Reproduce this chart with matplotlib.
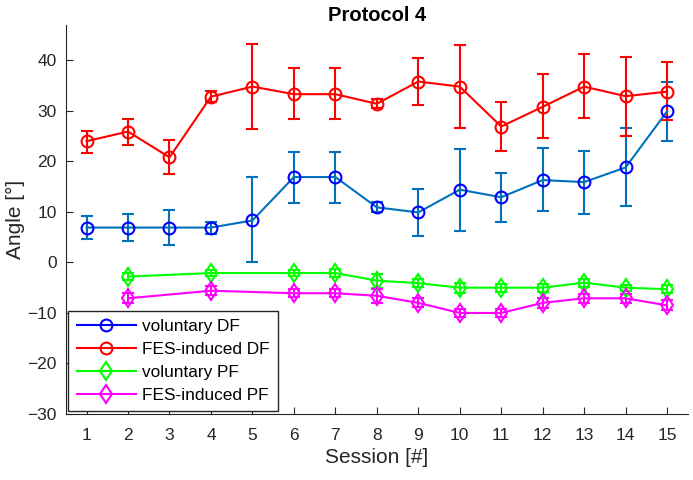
import numpy as np
import matplotlib.pyplot as plt
from matplotlib.lines import Line2D

plt.rcParams['font.family'] = ['Liberation Sans', 'DejaVu Sans']

# sessions
sessions_df = [1, 2, 3, 4, 5, 6, 7, 8, 9, 10, 11, 12, 13, 14, 15]
sessions_pf = [2, 4, 6, 7, 8, 9, 10, 11, 12, 13, 14, 15]

# voluntary DF (mean, lower, upper)
vol_df = [6.9, 6.9, 6.9, 6.9, 8.3, 16.9, 16.9, 10.9, 9.9, 14.4, 12.9, 16.3, 15.9, 18.8, 29.9]
vol_df_lo = [4.7, 4.3, 3.5, 5.7, 0.0, 11.8, 11.8, 10.0, 5.3, 6.3, 8.0, 10.1, 9.6, 11.1, 24.0]
vol_df_hi = [9.1, 9.5, 10.3, 8.1, 16.9, 21.9, 21.9, 11.9, 14.6, 22.5, 17.7, 22.7, 22.1, 26.6, 35.8]

# FES-induced DF
fes_df = [24.0, 25.9, 20.8, 32.8, 34.8, 33.3, 33.3, 31.4, 35.8, 34.8, 26.9, 30.8, 34.8, 32.9, 33.8]
fes_df_lo = [21.7, 23.3, 17.5, 31.7, 26.4, 28.3, 28.3, 30.5, 31.2, 26.7, 22.0, 24.6, 28.5, 25.1, 28.1]
fes_df_hi = [26.1, 28.4, 24.3, 34.0, 43.2, 38.4, 38.4, 32.3, 40.5, 43.0, 31.8, 37.2, 41.2, 40.6, 39.7]

# voluntary PF
vol_pf = [-2.8, -2.1, -2.1, -2.1, -3.6, -4.1, -5.0, -5.0, -5.0, -4.0, -5.0, -5.3]
vol_pf_err = [0.7, 0.6, 0.6, 0.7, 1.4, 0.8, 1.0, 0.8, 0.8, 0.8, 0.6, 0.8]

# FES-induced PF
fes_pf = [-7.1, -5.6, -6.1, -6.1, -6.6, -8.0, -10.0, -10.0, -8.0, -7.1, -7.1, -8.5]
fes_pf_err = [1.0, 0.9, 0.8, 0.8, 1.4, 0.9, 0.8, 0.8, 1.0, 0.9, 0.9, 1.0]

fig = plt.figure(figsize=(6.93, 4.8), dpi=100)
ax = fig.add_axes([0.095, 0.1375, 0.8975, 0.8105])

err_blue = '#0072BD'
ms = 8.5
cap = 4.5
dark = '#262626'

def asym(vals, lo, hi):
    vals = np.array(vals)
    return [vals - np.array(lo), np.array(hi) - vals]

ax.errorbar(sessions_df, vol_df, yerr=asym(vol_df, vol_df_lo, vol_df_hi), color=err_blue,
            ecolor=err_blue, lw=1.5, elinewidth=1.5, capsize=cap, capthick=1.5,
            marker='o', ms=ms, mfc='none', mec='blue', mew=1.5)
ax.errorbar(sessions_df, fes_df, yerr=asym(fes_df, fes_df_lo, fes_df_hi), color='red',
            lw=1.5, elinewidth=1.5, capsize=cap, capthick=1.5,
            marker='o', ms=ms, mfc='none', mec='red', mew=1.5)
ax.errorbar(sessions_pf, vol_pf, yerr=vol_pf_err, color='#00FF00',
            lw=1.5, elinewidth=1.5, capsize=cap, capthick=1.5,
            marker='d', ms=ms + 1, mfc='none', mec='#00FF00', mew=1.5)
ax.errorbar(sessions_pf, fes_pf, yerr=fes_pf_err, color='#FF00FF',
            lw=1.5, elinewidth=1.5, capsize=cap, capthick=1.5,
            marker='d', ms=ms + 1, mfc='none', mec='#FF00FF', mew=1.5)

handles = [
    Line2D([], [], color='blue', marker='o', ms=ms, mfc='none', lw=1.5, mew=1.5),
    Line2D([], [], color='red', marker='o', ms=ms, mfc='none', lw=1.5, mew=1.5),
    Line2D([], [], color='#00FF00', marker='d', ms=ms + 1, mfc='none', lw=1.5, mew=1.5),
    Line2D([], [], color='#FF00FF', marker='d', ms=ms + 1, mfc='none', lw=1.5, mew=1.5),
]
labels = ['voluntary DF', 'FES-induced DF', 'voluntary PF', 'FES-induced PF']
leg = ax.legend(handles, labels, loc='lower left', fontsize=12.4, fancybox=False,
                edgecolor=dark, framealpha=1, borderaxespad=0.15,
                handlelength=3.4, labelspacing=0.45, borderpad=0.5, handletextpad=0.35)
leg.get_frame().set_linewidth(1.0)

ax.set_xlim(0.5, 15.5)
ax.set_ylim(-30, 47)
ax.set_xticks(range(1, 16))
ax.set_yticks(range(-30, 41, 10))
ax.tick_params(direction='in', labelsize=12.5, colors=dark, length=5)
ax.tick_params(axis='x', pad=10)
ax.tick_params(axis='y', pad=6.5)
for s in ['top', 'right']:
    ax.spines[s].set_visible(False)
for s in ['left', 'bottom']:
    ax.spines[s].set_color(dark)

ax.set_xlabel('Session [#]', fontsize=15, color=dark, labelpad=4)
ax.set_ylabel('Angle [°]', fontsize=15, color=dark, labelpad=2)
ax.set_title('Protocol 4', fontsize=14.5, fontweight='bold', pad=3)

fig.savefig('out.png', dpi=100)
